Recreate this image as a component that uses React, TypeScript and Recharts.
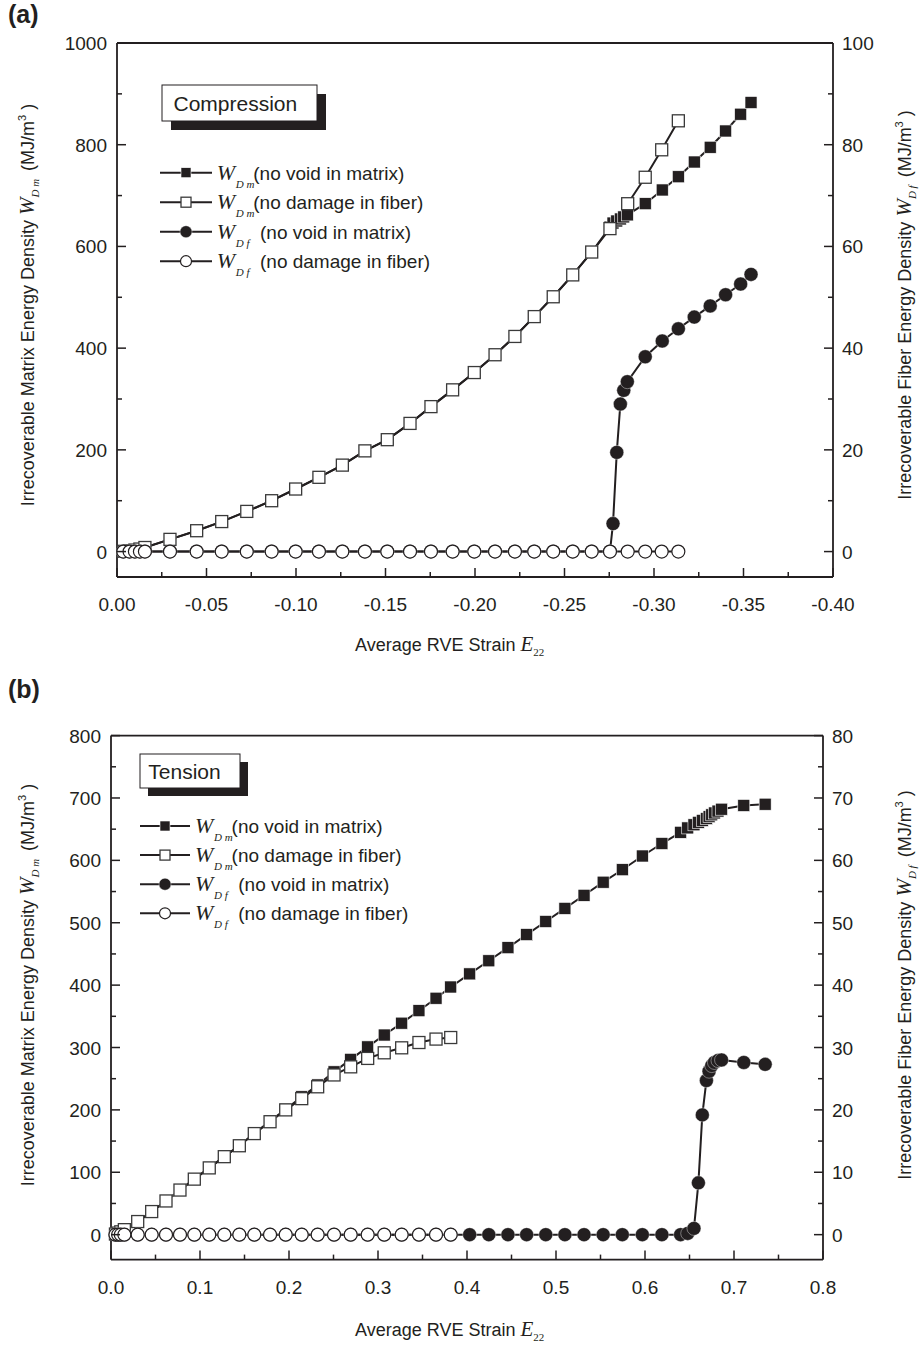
import React from 'react';
import { ComposedChart, Line, XAxis, YAxis, Legend } from 'recharts';

const INK = '#231f20';
const SANS = '"Liberation Sans", Arial, Helvetica, sans-serif';
const SERIF = '"Liberation Serif", "Times New Roman", Times, serif';
const PAGE_W = 923;

// ---------- (a) Compression ----------
const A_X_TICKS = [0, -0.025, -0.05, -0.075, -0.1, -0.125, -0.15, -0.175, -0.2, -0.225, -0.25, -0.275, -0.3, -0.325, -0.35, -0.375, -0.4];
const A_Y_TICKS = [0, 100, 200, 300, 400, 500, 600, 700, 800, 900, 1000];
const A_R_TICKS = [0, 10, 20, 30, 40, 50, 60, 70, 80, 90, 100];

// no damage in fiber (open symbols)
const A_ND_X = [-0.0035, -0.007, -0.01, -0.0128, -0.0156, -0.0296, -0.0445, -0.0585, -0.0725, -0.0864, -0.0998, -0.1128, -0.1259, -0.1385, -0.151, -0.1637, -0.1754, -0.1875, -0.1996, -0.2112, -0.2223, -0.2331, -0.2437, -0.2546, -0.2652, -0.2754, -0.2853, -0.2951, -0.3043, -0.3136];
const A_ND_WDM = [0.5, 1.5, 3, 5, 8, 24, 41, 59, 79, 100, 123, 146, 170, 198, 220, 252, 285, 318, 352, 387, 423, 462, 501, 544, 589, 635, 684, 736, 790, 847];
const A_ND_WDF = [0, 0, 0, 0, 0, 0, 0, 0, 0, 0, 0, 0, 0, 0, 0, 0, 0, 0, 0, 0, 0, 0, 0, 0, 0, 0, 0, 0, 0, 0];

// no void in matrix (filled symbols)
const A_NV_X = [-0.0035, -0.007, -0.01, -0.0128, -0.0156, -0.0296, -0.0445, -0.0585, -0.0725, -0.0864, -0.0998, -0.1128, -0.1259, -0.1385, -0.151, -0.1637, -0.1754, -0.1875, -0.1996, -0.2112, -0.2223, -0.2331, -0.2437, -0.2546, -0.2652, -0.2754, -0.2771, -0.2792, -0.2812, -0.2831, -0.2851, -0.2951, -0.3046, -0.3136, -0.3225, -0.3314, -0.34, -0.3484, -0.3542];
const A_NV_WDM = [0.5, 1.5, 3, 5, 8, 24, 41, 59, 79, 100, 123, 146, 170, 198, 220, 252, 285, 318, 352, 387, 423, 462, 501, 544, 589, 638, 646, 650, 654, 658, 662, 684, 711, 737, 766, 795, 827, 860, 883];
const A_NV_WDF = [0, 0, 0, 0, 0, 0, 0, 0, 0, 0, 0, 0, 0, 0, 0, 0, 0, 0, 0, 0, 0, 0, 0, 0, 0, 0, 5.5, 19.5, 29, 31.7, 33.4, 38.3, 41.4, 43.8, 46.1, 48.3, 50.5, 52.6, 54.5];

// ---------- (b) Tension ----------
const B_X_TICKS = [0, 0.05, 0.1, 0.15, 0.2, 0.25, 0.3, 0.35, 0.4, 0.45, 0.5, 0.55, 0.6, 0.65, 0.7, 0.75, 0.8];
const B_Y_TICKS = [0, 50, 100, 150, 200, 250, 300, 350, 400, 450, 500, 550, 600, 650, 700, 750, 800];
const B_R_TICKS = [0, 5, 10, 15, 20, 25, 30, 35, 40, 45, 50, 55, 60, 65, 70, 75, 80];

const B_ND_X = [0.005, 0.008, 0.011, 0.015, 0.03, 0.0457, 0.0618, 0.0775, 0.0936, 0.1104, 0.1273, 0.1442, 0.161, 0.1787, 0.1963, 0.2143, 0.2322, 0.2506, 0.2693, 0.2884, 0.307, 0.3266, 0.346, 0.3652, 0.3817];
const B_ND_WDM = [1, 2.5, 4.5, 8, 21, 37, 54, 71.5, 89, 107, 125, 142.5, 162, 181, 200, 218, 237, 256, 269, 282.5, 291.5, 299.5, 308, 313.5, 316];
const B_ND_WDF = [0, 0, 0, 0, 0, 0, 0, 0, 0, 0, 0, 0, 0, 0, 0, 0, 0, 0, 0, 0, 0, 0, 0, 0, 0];

const B_NV_X = [0.005, 0.008, 0.011, 0.015, 0.03, 0.0457, 0.0618, 0.0775, 0.0936, 0.1104, 0.1273, 0.1442, 0.161, 0.1787, 0.1963, 0.2143, 0.2322, 0.2506, 0.2693, 0.2884, 0.307, 0.3266, 0.346, 0.3652, 0.3817, 0.403, 0.4245, 0.446, 0.467, 0.4885, 0.51, 0.5315, 0.553, 0.5745, 0.597, 0.619, 0.64, 0.648, 0.655, 0.66, 0.6644, 0.669, 0.672, 0.675, 0.678, 0.682, 0.686, 0.711, 0.735];
const B_NV_WDM = [1, 2.5, 4.5, 8, 21, 37, 54, 71.5, 89, 107, 125, 143, 162, 182, 201, 221, 240, 261, 281, 301, 320, 339, 359, 379, 397, 418, 439, 460, 481, 502, 523, 544, 565, 585, 607, 627, 645, 652, 657, 661, 664, 667, 670, 673, 676, 679, 682, 688, 690];
const B_NV_WDF = [0, 0, 0, 0, 0, 0, 0, 0, 0, 0, 0, 0, 0, 0, 0, 0, 0, 0, 0, 0, 0, 0, 0, 0, 0, 0, 0, 0, 0, 0, 0, 0, 0, 0, 0, 0, 0, 0.2, 1, 8.3, 19.2, 24.7, 26.2, 27.1, 27.6, 27.9, 28, 27.6, 27.3];

const LEGEND_ROWS = [
  { sub: 'D m', text: '(no void in matrix)', marker: 'fsq' },
  { sub: 'D m', text: '(no damage in fiber)', marker: 'osq' },
  { sub: 'D f', text: '(no void in matrix)', marker: 'fci' },
  { sub: 'D f', text: '(no damage in fiber)', marker: 'oci' },
];

const pts = (xs: number[], ys: number[]) => xs.map((x, i) => ({ x, y: ys[i] }));

// ---- markers ----
const markerEl = (kind: string, cx: number, cy: number, size: number, key?: any) => {
  if (kind === 'fsq')
    return <rect key={key} x={cx - size / 2} y={cy - size / 2} width={size} height={size} fill={INK} stroke="#fff" strokeWidth={0.6} />;
  if (kind === 'osq')
    return <rect key={key} x={cx - size / 2} y={cy - size / 2} width={size} height={size} fill="#fff" stroke="#3a3a3a" strokeWidth={1.3} />;
  if (kind === 'fci')
    return <circle key={key} cx={cx} cy={cy} r={size / 2 + 1} fill={INK} stroke="#fff" strokeWidth={0.4} />;
  return <circle key={key} cx={cx} cy={cy} r={size / 2 + 0.5} fill="#fff" stroke={INK} strokeWidth={1.2} />;
};

const dotFn = (kind: string) => (p: any) => {
  if (p.cx == null || p.cy == null) return <g key={p.index} />;
  return markerEl(kind, p.cx, p.cy, 12, p.index);
};

// ---- ticks (inward, major + minor) ----
const makeTick = (side: string, edge: number, step: number, fmt?: (v: number) => string) => (props: any) => {
  const { x, y, payload } = props;
  const v = payload.value;
  const major = Math.round(Math.abs(v) / step) % 2 === 0;
  const len = major ? 9 : 5;
  const txt = major && fmt ? fmt(v) : null;
  const t = { fontFamily: SANS, fontSize: 19, fill: INK };
  if (side === 'bottom')
    return (
      <g>
        <line x1={x} x2={x} y1={edge} y2={edge - len} stroke={INK} strokeWidth={1.5} />
        {txt && <text x={x} y={edge + 34} textAnchor="middle" {...t}>{txt}</text>}
      </g>
    );
  if (side === 'top')
    return <line x1={x} x2={x} y1={edge} y2={edge + len} stroke={INK} strokeWidth={1.5} />;
  if (side === 'left')
    return (
      <g>
        <line x1={edge} x2={edge + len} y1={y} y2={y} stroke={INK} strokeWidth={1.5} />
        {txt && <text x={edge - 10} y={y + 7} textAnchor="end" {...t}>{txt}</text>}
      </g>
    );
  return (
    <g>
      <line x1={edge} x2={edge - len} y1={y} y2={y} stroke={INK} strokeWidth={1.5} />
      {txt && <text x={edge + 9} y={y + 7} textAnchor="start" {...t}>{txt}</text>}
    </g>
  );
};

// ---- titles ----
const XTitle = ({ x, y }: any) => (
  <text x={x} y={y} fontFamily={SANS} fontSize={18} fill={INK}>
    Average RVE Strain <tspan fontFamily={SERIF} fontStyle="italic" fontSize={21}>E</tspan>
    <tspan fontFamily={SERIF} fontSize={11} dy={5}>22</tspan>
  </text>
);

const YTitle = ({ x, y, lead, sub }: any) => (
  <text transform={`translate(${x},${y}) rotate(-90)`} textAnchor="middle" fontFamily={SANS} fontSize={18} fill={INK}>
    {lead} <tspan fontFamily={SERIF} fontStyle="italic" fontSize={21}>W</tspan>
    <tspan fontFamily={SERIF} fontStyle="italic" fontSize={11} dy={5}>{sub}</tspan>
    <tspan dy={-5} dx={8}>(MJ/m</tspan>
    <tspan fontSize={11} dy={-8}>3</tspan>
    <tspan dy={8}> )</tspan>
  </text>
);

const LegendBox = ({ L }: any) => (
  <svg width={340} height={200} style={{ display: 'block', overflow: 'visible' }}>
    <rect x={L.box[0] + L.shadow} y={L.box[1] + L.shadow} width={L.box[2]} height={L.box[3]} fill={INK} />
    <rect x={L.box[0]} y={L.box[1]} width={L.box[2]} height={L.box[3]} fill="#fff" stroke={INK} strokeWidth={1} />
    <text x={L.box[0] + L.pad} y={L.box[1] + L.box[3] / 2 + 7.5} fontFamily={SANS} fontSize={21} fill={INK}>{L.title}</text>
    {LEGEND_ROWS.map((r, i) => {
      const cy = L.row0 + i * L.gap;
      return (
        <g key={i}>
          <line x1={L.line[0]} x2={L.line[1]} y1={cy} y2={cy} stroke={INK} strokeWidth={2} />
          {markerEl(r.marker, (L.line[0] + L.line[1]) / 2, cy, 10)}
          <text x={L.wx} y={cy + 7} fontFamily={SERIF} fontStyle="italic" fontSize={22} fill={INK}>W</text>
          <text x={L.wx + 19} y={cy + 15} fontFamily={SERIF} fontStyle="italic" fontSize={11} fill={INK}>{r.sub}</text>
          <text x={L.wx + (r.sub === 'D m' ? 36.6 : 43.3)} y={cy + 7} fontFamily={SANS} fontSize={19} fill={INK}>{r.text}</text>
        </g>
      );
    })}
  </svg>
);

const PANELS = [
  {
    letter: '(a)', letterTop: 2, top: 0, height: 680,
    plot: { left: 117, right: 833, top: 43, bottom: 577 },
    xDomain: [-0.4, 0], reversed: true, xTicks: A_X_TICKS, xStep: 0.025, xFmt: (v: number) => v.toFixed(2),
    yDomain: [-50, 1000], yTicks: A_Y_TICKS, yStep: 100,
    rDomain: [-5, 100], rTicks: A_R_TICKS, rStep: 10,
    nvWdm: pts(A_NV_X, A_NV_WDM), ndWdm: pts(A_ND_X, A_ND_WDM),
    nvWdf: pts(A_NV_X, A_NV_WDF), ndWdf: pts(A_ND_X, A_ND_WDF),
    xTitle: { x: 355, y: 651 }, yTitleY: 305, yTitleX: 34, rTitleX: 911,
    legendPos: { left: 150, top: 80 },
    legend: { title: 'Compression', box: [12, 5, 155, 36], shadow: 9, pad: 11.5, row0: 92.7, gap: 29.5, line: [10, 62], wx: 66.7 },
  },
  {
    letter: '(b)', letterTop: -3, top: 680, height: 671,
    plot: { left: 111, right: 823, top: 55.6, bottom: 579.6 },
    xDomain: [0, 0.8], reversed: false, xTicks: B_X_TICKS, xStep: 0.05, xFmt: (v: number) => v.toFixed(1),
    yDomain: [-40, 800], yTicks: B_Y_TICKS, yStep: 50,
    rDomain: [-4, 80], rTicks: B_R_TICKS, rStep: 5,
    nvWdm: pts(B_NV_X, B_NV_WDM), ndWdm: pts(B_ND_X, B_ND_WDM),
    nvWdf: pts(B_NV_X, B_NV_WDF), ndWdf: pts(B_ND_X, B_ND_WDF),
    xTitle: { x: 355, y: 656 }, yTitleY: 305, yTitleX: 34, rTitleX: 911,
    legendPos: { left: 130, top: 65 },
    legend: { title: 'Tension', box: [10, 9, 100, 34], shadow: 8, pad: 8.3, row0: 81, gap: 29.1, line: [10, 60], wx: 65 },
  },
];

function Panel({ p }: any) {
  const margin = {
    left: p.plot.left - 60,
    right: PAGE_W - p.plot.right - 60,
    top: p.plot.top - 10,
    bottom: p.height - p.plot.bottom - 40,
  };
  const axisLine = { stroke: INK, strokeWidth: 1.8 };
  const lineProps = { type: 'linear' as const, dataKey: 'y', stroke: INK, strokeWidth: 2, activeDot: false, isAnimationActive: false, legendType: 'none' as const };
  return (
    <div style={{ position: 'absolute', left: 0, top: p.top, width: PAGE_W, height: p.height }}>
      <ComposedChart width={PAGE_W} height={p.height} margin={margin}>
        <XAxis
          xAxisId="bottom" type="number" dataKey="x" domain={p.xDomain} reversed={p.reversed}
          ticks={p.xTicks} interval={0} tickSize={0} tickLine={false} axisLine={axisLine} height={40}
          tick={makeTick('bottom', p.plot.bottom, p.xStep, p.xFmt)}
          label={{ content: () => <XTitle x={p.xTitle.x} y={p.xTitle.y} /> }}
        />
        <XAxis
          xAxisId="top" orientation="top" type="number" dataKey="x" domain={p.xDomain} reversed={p.reversed}
          ticks={p.xTicks} interval={0} tickSize={0} tickLine={false} axisLine={axisLine} height={10}
          tick={makeTick('top', p.plot.top, p.xStep)}
        />
        <YAxis
          yAxisId="left" type="number" domain={p.yDomain} ticks={p.yTicks} interval={0} width={60}
          tickSize={0} tickLine={false} axisLine={axisLine}
          tick={makeTick('left', p.plot.left, p.yStep, (v: number) => String(v))}
          label={{ content: () => <YTitle x={p.yTitleX} y={p.yTitleY} lead="Irrecoverable Matrix Energy Density" sub="D m" /> }}
        />
        <YAxis
          yAxisId="right" orientation="right" type="number" domain={p.rDomain} ticks={p.rTicks} interval={0} width={60}
          tickSize={0} tickLine={false} axisLine={axisLine}
          tick={makeTick('right', p.plot.right, p.rStep, (v: number) => String(v))}
          label={{ content: () => <YTitle x={p.rTitleX} y={p.yTitleY} lead="Irrecoverable Fiber Energy Density" sub="D f" /> }}
        />
        <Line {...lineProps} name="W_Dm (no void in matrix)" data={p.nvWdm} xAxisId="bottom" yAxisId="left" dot={dotFn('fsq')} />
        <Line {...lineProps} name="W_Dm (no damage in fiber)" data={p.ndWdm} xAxisId="bottom" yAxisId="left" dot={dotFn('osq')} />
        <Line {...lineProps} name="W_Df (no void in matrix)" data={p.nvWdf} xAxisId="bottom" yAxisId="right" dot={dotFn('fci')} />
        <Line {...lineProps} name="W_Df (no damage in fiber)" data={p.ndWdf} xAxisId="bottom" yAxisId="right" dot={dotFn('oci')} />
        <Legend
          layout="horizontal" verticalAlign="middle" align="center"
          wrapperStyle={{ left: p.legendPos.left, top: p.legendPos.top, width: 340, height: 200 }}
          content={() => <LegendBox L={{ ...p.legend }} />}
        />
      </ComposedChart>
      <div style={{ position: 'absolute', left: 8, top: p.letterTop, fontFamily: SANS, fontWeight: 'bold', fontSize: 25, lineHeight: '25px', color: INK }}>
        {p.letter}
      </div>
    </div>
  );
}

export default function App() {
  return (
    <div style={{ position: 'absolute', left: 0, top: 0, width: PAGE_W, height: 1351, background: '#fff' }}>
      {PANELS.map((p) => (
        <Panel key={p.letter} p={p} />
      ))}
    </div>
  );
}
